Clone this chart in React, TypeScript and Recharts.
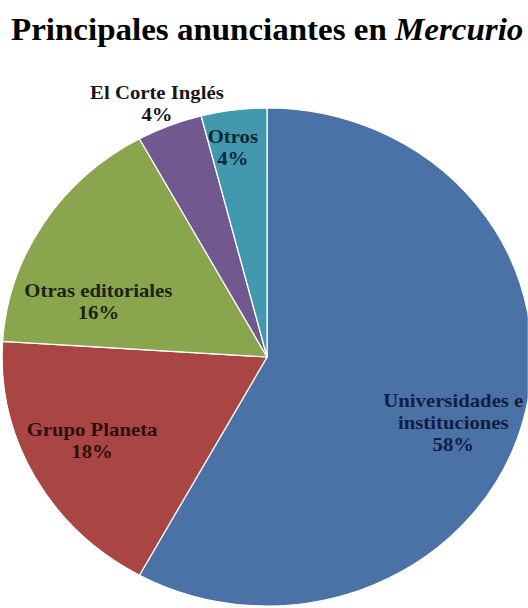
import { Cell, Pie, PieChart } from "recharts";

const categorias = [
  "Universidades e\ninstituciones",
  "Grupo Planeta",
  "Otras editoriales",
  "El Corte Inglés",
  "Otros",
];
const porcentajes = [58, 18, 16, 4, 4];

const colores = ["#4a72a6", "#a94643", "#89a54e", "#71588f", "#4298af"];
const coloresTexto = ["#141c40", "#2e0f0f", "#1b230e", "#161616", "#0f2636"];
// ajuste de la posicion de cada etiqueta: factor de radio y giro en grados
const radioEtiqueta = [0.75, 0.74, 0.675, 1.1, 0.853];
const giroEtiqueta = [-6, -2, 13, 0.6, 1.5];

const datos = categorias.map((nombre, i) => ({ nombre, valor: porcentajes[i] }));

const ESCALA_X = 1.064;
const ANCHO = 528 / ESCALA_X;
const ALTO = 608;
const RAD = Math.PI / 180;
const SERIF = "'Liberation Serif', 'Times New Roman', serif";

function Etiqueta(props: any) {
  const { cx, cy, midAngle, outerRadius, percent, index } = props;
  const ang = (midAngle + giroEtiqueta[index]) * RAD;
  const r = outerRadius * radioEtiqueta[index];
  const x = cx + r * Math.cos(ang);
  const y = cy - r * Math.sin(ang);
  const lineas = [...categorias[index].split("\n"), `${Math.round(percent * 100)}%`];
  const alto = 22;
  const y0 = y - ((lineas.length - 1) * alto) / 2;
  return (
    <text
      x={x}
      y={y0}
      textAnchor="middle"
      dominantBaseline="central"
      fill={coloresTexto[index]}
      style={{ fontFamily: SERIF, fontWeight: "bold", fontSize: 19.5 }}
    >
      {lineas.map((l, i) => (
        <tspan key={i} x={x} y={y0 + i * alto}>
          {l}
        </tspan>
      ))}
    </text>
  );
}

export default function App() {
  return (
    <div
      style={{
        position: "absolute",
        left: 0,
        top: 0,
        width: 528,
        height: 608,
        overflow: "hidden",
        background: "#fff",
      }}
    >
      <div
        style={{
          position: "relative",
          width: ANCHO,
          height: ALTO,
          transform: `scaleX(${ESCALA_X})`,
          transformOrigin: "0 0",
        }}
      >
        <div
          style={{
            position: "absolute",
            top: 12,
            left: 0,
            width: ANCHO + 6,
            textAlign: "center",
            fontFamily: SERIF,
            fontWeight: "bold",
            fontSize: 31,
            lineHeight: "36px",
            color: "#000",
            whiteSpace: "nowrap",
          }}
        >
          Principales anunciantes en <i>Mercurio</i>
        </div>
        <PieChart width={ANCHO} height={ALTO} margin={{ top: 0, right: 0, bottom: 0, left: 0 }}>
          <Pie
            data={datos}
            dataKey="valor"
            nameKey="nombre"
            cx={251}
            cy={357}
            outerRadius={249}
            startAngle={90}
            endAngle={-270}
            stroke="#ffffff"
            strokeWidth={1.2}
            labelLine={false}
            label={Etiqueta}
            isAnimationActive={false}
          >
            {datos.map((d, i) => (
              <Cell key={d.nombre} fill={colores[i]} />
            ))}
          </Pie>
        </PieChart>
      </div>
    </div>
  );
}
